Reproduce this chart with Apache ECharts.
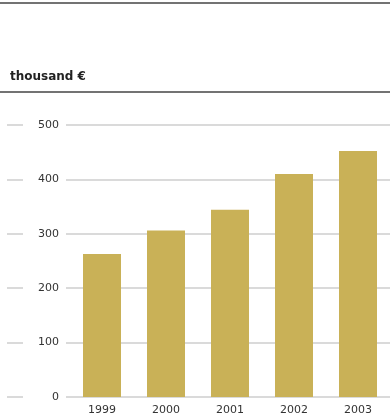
<!DOCTYPE html>
<html><head><meta charset="utf-8">
<script src="https://cdn.jsdelivr.net/npm/echarts@6/dist/echarts.min.js"></script>
<style>html,body{margin:0;padding:0;background:#fff}#c{width:390px;height:416px}</style>
</head><body><div id="c"></div>
<script>
const categories = ['1999', '2000', '2001', '2002', '2003'];
const values = [263, 306, 344, 410, 452];
const yTicks = [0, 100, 200, 300, 400, 500];
const unitLabel = 'thousand €';

const chart = echarts.init(document.getElementById('c'), null, {renderer: 'canvas'});
const font = '"DejaVu Sans", Verdana, sans-serif';
const gridLine = {show: true, lineStyle: {color: '#dadada', width: 2}};
const yBase = {type: 'value', min: yTicks[0], max: yTicks[yTicks.length - 1], interval: 100};
chart.setOption({
  animation: false,
  title: {text: unitLabel, left: 10, top: 71, padding: 0, textStyle: {fontFamily: font, fontSize: 12, fontWeight: 'bold', color: '#222'}},
  graphic: [
    {type: 'line', shape: {x1: 0, y1: 3, x2: 390, y2: 3}, style: {stroke: '#444', lineWidth: 1.5}},
    {type: 'line', shape: {x1: 0, y1: 92, x2: 390, y2: 92}, style: {stroke: '#444', lineWidth: 1.5}}
  ],
  grid: [
    {left: 70, right: 0, top: 125, bottom: 19},
    {left: 66, right: 0, top: 125, bottom: 19},
    {left: 7, width: 16, top: 125, bottom: 19}
  ],
  xAxis: [
    {type: 'category', gridIndex: 0, data: categories, axisLine: {show: false}, axisTick: {show: false},
     axisLabel: {fontFamily: font, fontSize: 11, color: '#333', margin: 8}},
    {type: 'value', gridIndex: 1, show: false, min: 0, max: 1},
    {type: 'value', gridIndex: 2, show: false, min: 0, max: 1}
  ],
  yAxis: [
    Object.assign({}, yBase, {gridIndex: 0, show: false}),
    Object.assign({}, yBase, {gridIndex: 1, axisLine: {show: false}, axisTick: {show: false},
      axisLabel: {fontFamily: font, fontSize: 11, color: '#333', margin: 7}, splitLine: gridLine}),
    Object.assign({}, yBase, {gridIndex: 2, axisLine: {show: false}, axisTick: {show: false},
      axisLabel: {show: false}, splitLine: gridLine})
  ],
  series: [{
    type: 'bar', xAxisIndex: 0, yAxisIndex: 0, data: values, barWidth: 38,
    itemStyle: {color: '#c9b157'}, z: 5
  }]
});
</script></body></html>
